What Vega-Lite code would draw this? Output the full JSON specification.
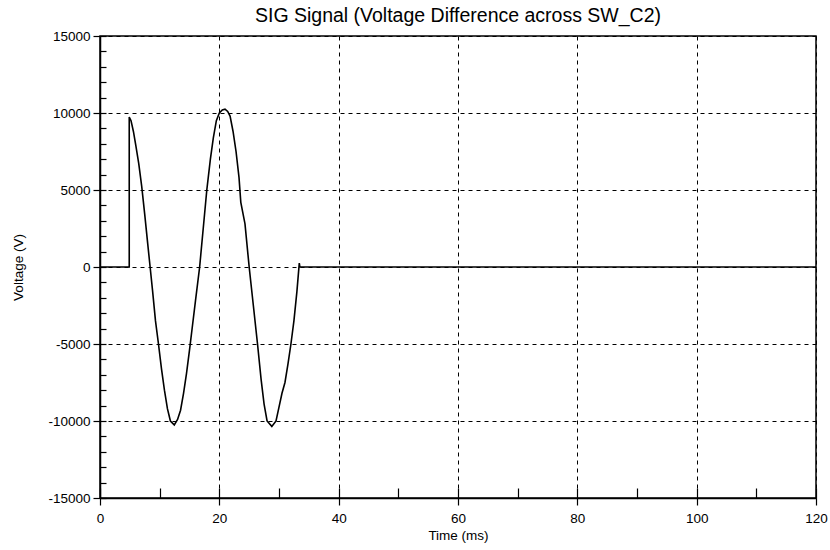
{
  "$schema": "https://vega.github.io/schema/vega-lite/v6.json",
  "autosize": "none",
  "width": 716,
  "height": 462,
  "padding": {"left": 100, "top": 36, "right": 14, "bottom": 52},
  "background": "white",
  "title": {"text": "SIG Signal (Voltage Difference across SW_C2)", "fontSize": 19.5, "font": "Liberation Sans", "fontWeight": "normal", "color": "black", "anchor": "middle", "offset": 3},
  "config": {
    "view": {"stroke": "black", "strokeWidth": 1.5},
    "axis": {"labelFont": "Liberation Sans", "titleFont": "Liberation Sans", "labelFontSize": 13.5, "titleFontSize": 13.5, "labelColor": "black", "titleColor": "black", "titleFontWeight": "normal", "domainColor": "black", "tickColor": "black", "tickWidth": 1.2, "gridColor": "black", "gridDash": [4, 4], "gridOpacity": 1, "gridWidth": 1, "labelFlush": false, "labelOverlap": false}
  },
  "data": {"values": [
    {"t": 0, "v": 0}, {"t": 4.9, "v": 0}, {"t": 4.9, "v": 9740}, {"t": 5.2, "v": 9500},
    {"t": 5.6, "v": 8800}, {"t": 6.0, "v": 7900}, {"t": 6.5, "v": 6700}, {"t": 7.0, "v": 5200},
    {"t": 7.5, "v": 3400}, {"t": 8.0, "v": 1500}, {"t": 8.4, "v": 0}, {"t": 8.8, "v": -1500},
    {"t": 9.3, "v": -3500}, {"t": 9.8, "v": -5000}, {"t": 10.3, "v": -6600}, {"t": 10.8, "v": -8000},
    {"t": 11.3, "v": -9200}, {"t": 11.8, "v": -10000}, {"t": 12.45, "v": -10250}, {"t": 13.0, "v": -9900},
    {"t": 13.5, "v": -9300}, {"t": 14.0, "v": -8200}, {"t": 14.5, "v": -6900}, {"t": 15.0, "v": -5400},
    {"t": 15.5, "v": -3800}, {"t": 16.0, "v": -2200}, {"t": 16.7, "v": 0}, {"t": 17.3, "v": 2500},
    {"t": 17.9, "v": 5000}, {"t": 18.5, "v": 7000}, {"t": 19.0, "v": 8400}, {"t": 19.5, "v": 9500},
    {"t": 20.0, "v": 10000}, {"t": 20.5, "v": 10200}, {"t": 20.95, "v": 10250}, {"t": 21.4, "v": 10100},
    {"t": 21.8, "v": 9800}, {"t": 22.3, "v": 8800}, {"t": 22.8, "v": 7500}, {"t": 23.3, "v": 5800},
    {"t": 23.6, "v": 4200}, {"t": 24.3, "v": 2800}, {"t": 25.0, "v": 0}, {"t": 25.7, "v": -2500},
    {"t": 26.4, "v": -5000}, {"t": 27.0, "v": -7300}, {"t": 27.5, "v": -8900}, {"t": 28.0, "v": -10000},
    {"t": 28.8, "v": -10350}, {"t": 29.5, "v": -10000}, {"t": 30.0, "v": -9100}, {"t": 30.5, "v": -8200},
    {"t": 31.0, "v": -7500}, {"t": 31.5, "v": -6300}, {"t": 32.0, "v": -5000}, {"t": 32.5, "v": -3500},
    {"t": 33.0, "v": -1600}, {"t": 33.4, "v": 250}, {"t": 33.5, "v": 0}, {"t": 120, "v": 0}
  ]},
  "resolve": {"axis": {"x": "independent", "y": "independent"}},
  "layer": [
    {
      "mark": {"type": "line", "color": "black", "strokeWidth": 1.6, "clip": true},
      "encoding": {
        "x": {"field": "t", "type": "quantitative", "scale": {"domain": [0, 120], "nice": false},
          "axis": {"orient": "bottom", "values": [0, 20, 40, 60, 80, 100, 120], "grid": true, "tickSize": 7, "labelPadding": 6, "labelExpr": "'' + datum.value", "title": "Time (ms)", "titlePadding": 4, "domainWidth": 1.5}},
        "y": {"field": "v", "type": "quantitative", "scale": {"domain": [-15000, 15000], "nice": false},
          "axis": {"orient": "left", "values": [-15000, -10000, -5000, 0, 5000, 10000, 15000], "grid": true, "tickSize": 7, "labelPadding": 3, "labelExpr": "'' + datum.value", "title": "Voltage (V)", "titlePadding": 22, "domainWidth": 1.5}}
      }
    },
    {
      "mark": {"type": "point", "opacity": 0},
      "encoding": {
        "x": {"field": "t", "type": "quantitative",
          "axis": {"orient": "bottom", "values": [0, 10, 20, 30, 40, 50, 60, 70, 80, 90, 100, 110, 120], "grid": false, "tickSize": -10, "labels": false, "domain": false, "title": null}},
        "y": {"field": "v", "type": "quantitative",
          "axis": {"orient": "left", "values": [-15000, -14000, -13000, -12000, -11000, -10000, -9000, -8000, -7000, -6000, -5000, -4000, -3000, -2000, -1000, 0, 1000, 2000, 3000, 4000, 5000, 6000, 7000, 8000, 9000, 10000, 11000, 12000, 13000, 14000, 15000], "grid": false, "tickSize": -6, "labels": false, "domain": false, "title": null}}
      }
    }
  ]
}
